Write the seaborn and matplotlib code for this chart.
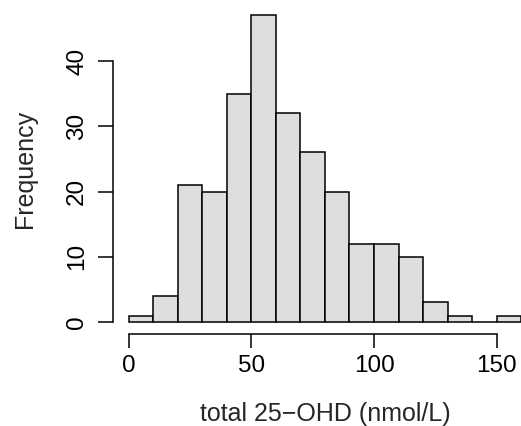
import matplotlib
matplotlib.use("Agg")
import matplotlib.pyplot as plt
import seaborn as sns
import numpy as np

# histogram counts (bins of width 10)
bin_edges = [0, 10, 20, 30, 40, 50, 60, 70, 80, 90, 100, 110, 120, 130, 140, 150, 160]
counts = [1, 4, 21, 20, 35, 47, 32, 26, 20, 12, 12, 10, 3, 1, 0, 1]
x_ticks = [0, 50, 100, 150]
y_ticks = [0, 10, 20, 30, 40]

sns.set_style("ticks")
plt.rcParams['font.family'] = ['Liberation Sans', 'DejaVu Sans']

mids = [(a + b) / 2 for a, b in zip(bin_edges[:-1], bin_edges[1:])]

fig = plt.figure(figsize=(5.21, 4.26), dpi=100)
ax = fig.add_axes([113 / 521, (426 - 334.3) / 426, 423.9 / 521, 331.2 / 426])

sns.histplot(x=mids, weights=counts, bins=bin_edges, ax=ax,
             color="#DEDEDE", edgecolor="black", linewidth=1.1, alpha=1)

ax.set_xlim(-6.4, 166.4)
ax.set_ylim(-1.88, 48.88)
for s in ["top", "right"]:
    ax.spines[s].set_visible(False)
ax.spines["left"].set_bounds(0, 40)
ax.spines["bottom"].set_bounds(0, 150)
for s in ["left", "bottom"]:
    ax.spines[s].set_linewidth(1.1)
    ax.spines[s].set_color("black")

ax.set_xticks(x_ticks)
ax.set_yticks(y_ticks)
ax.tick_params(axis="x", length=10, width=1.1, pad=5, labelsize=17.5, colors="black")
ax.tick_params(axis="y", length=11, width=1.1, pad=7, labelsize=17.5, colors="black")
plt.setp(ax.get_yticklabels(), rotation=90, va="center")

ax.set_xlabel("total 25\u2212OHD (nmol/L)", fontsize=18, labelpad=18)
ax.set_ylabel("Frequency", fontsize=18, labelpad=21)

fig.savefig("out.png", dpi=100)
